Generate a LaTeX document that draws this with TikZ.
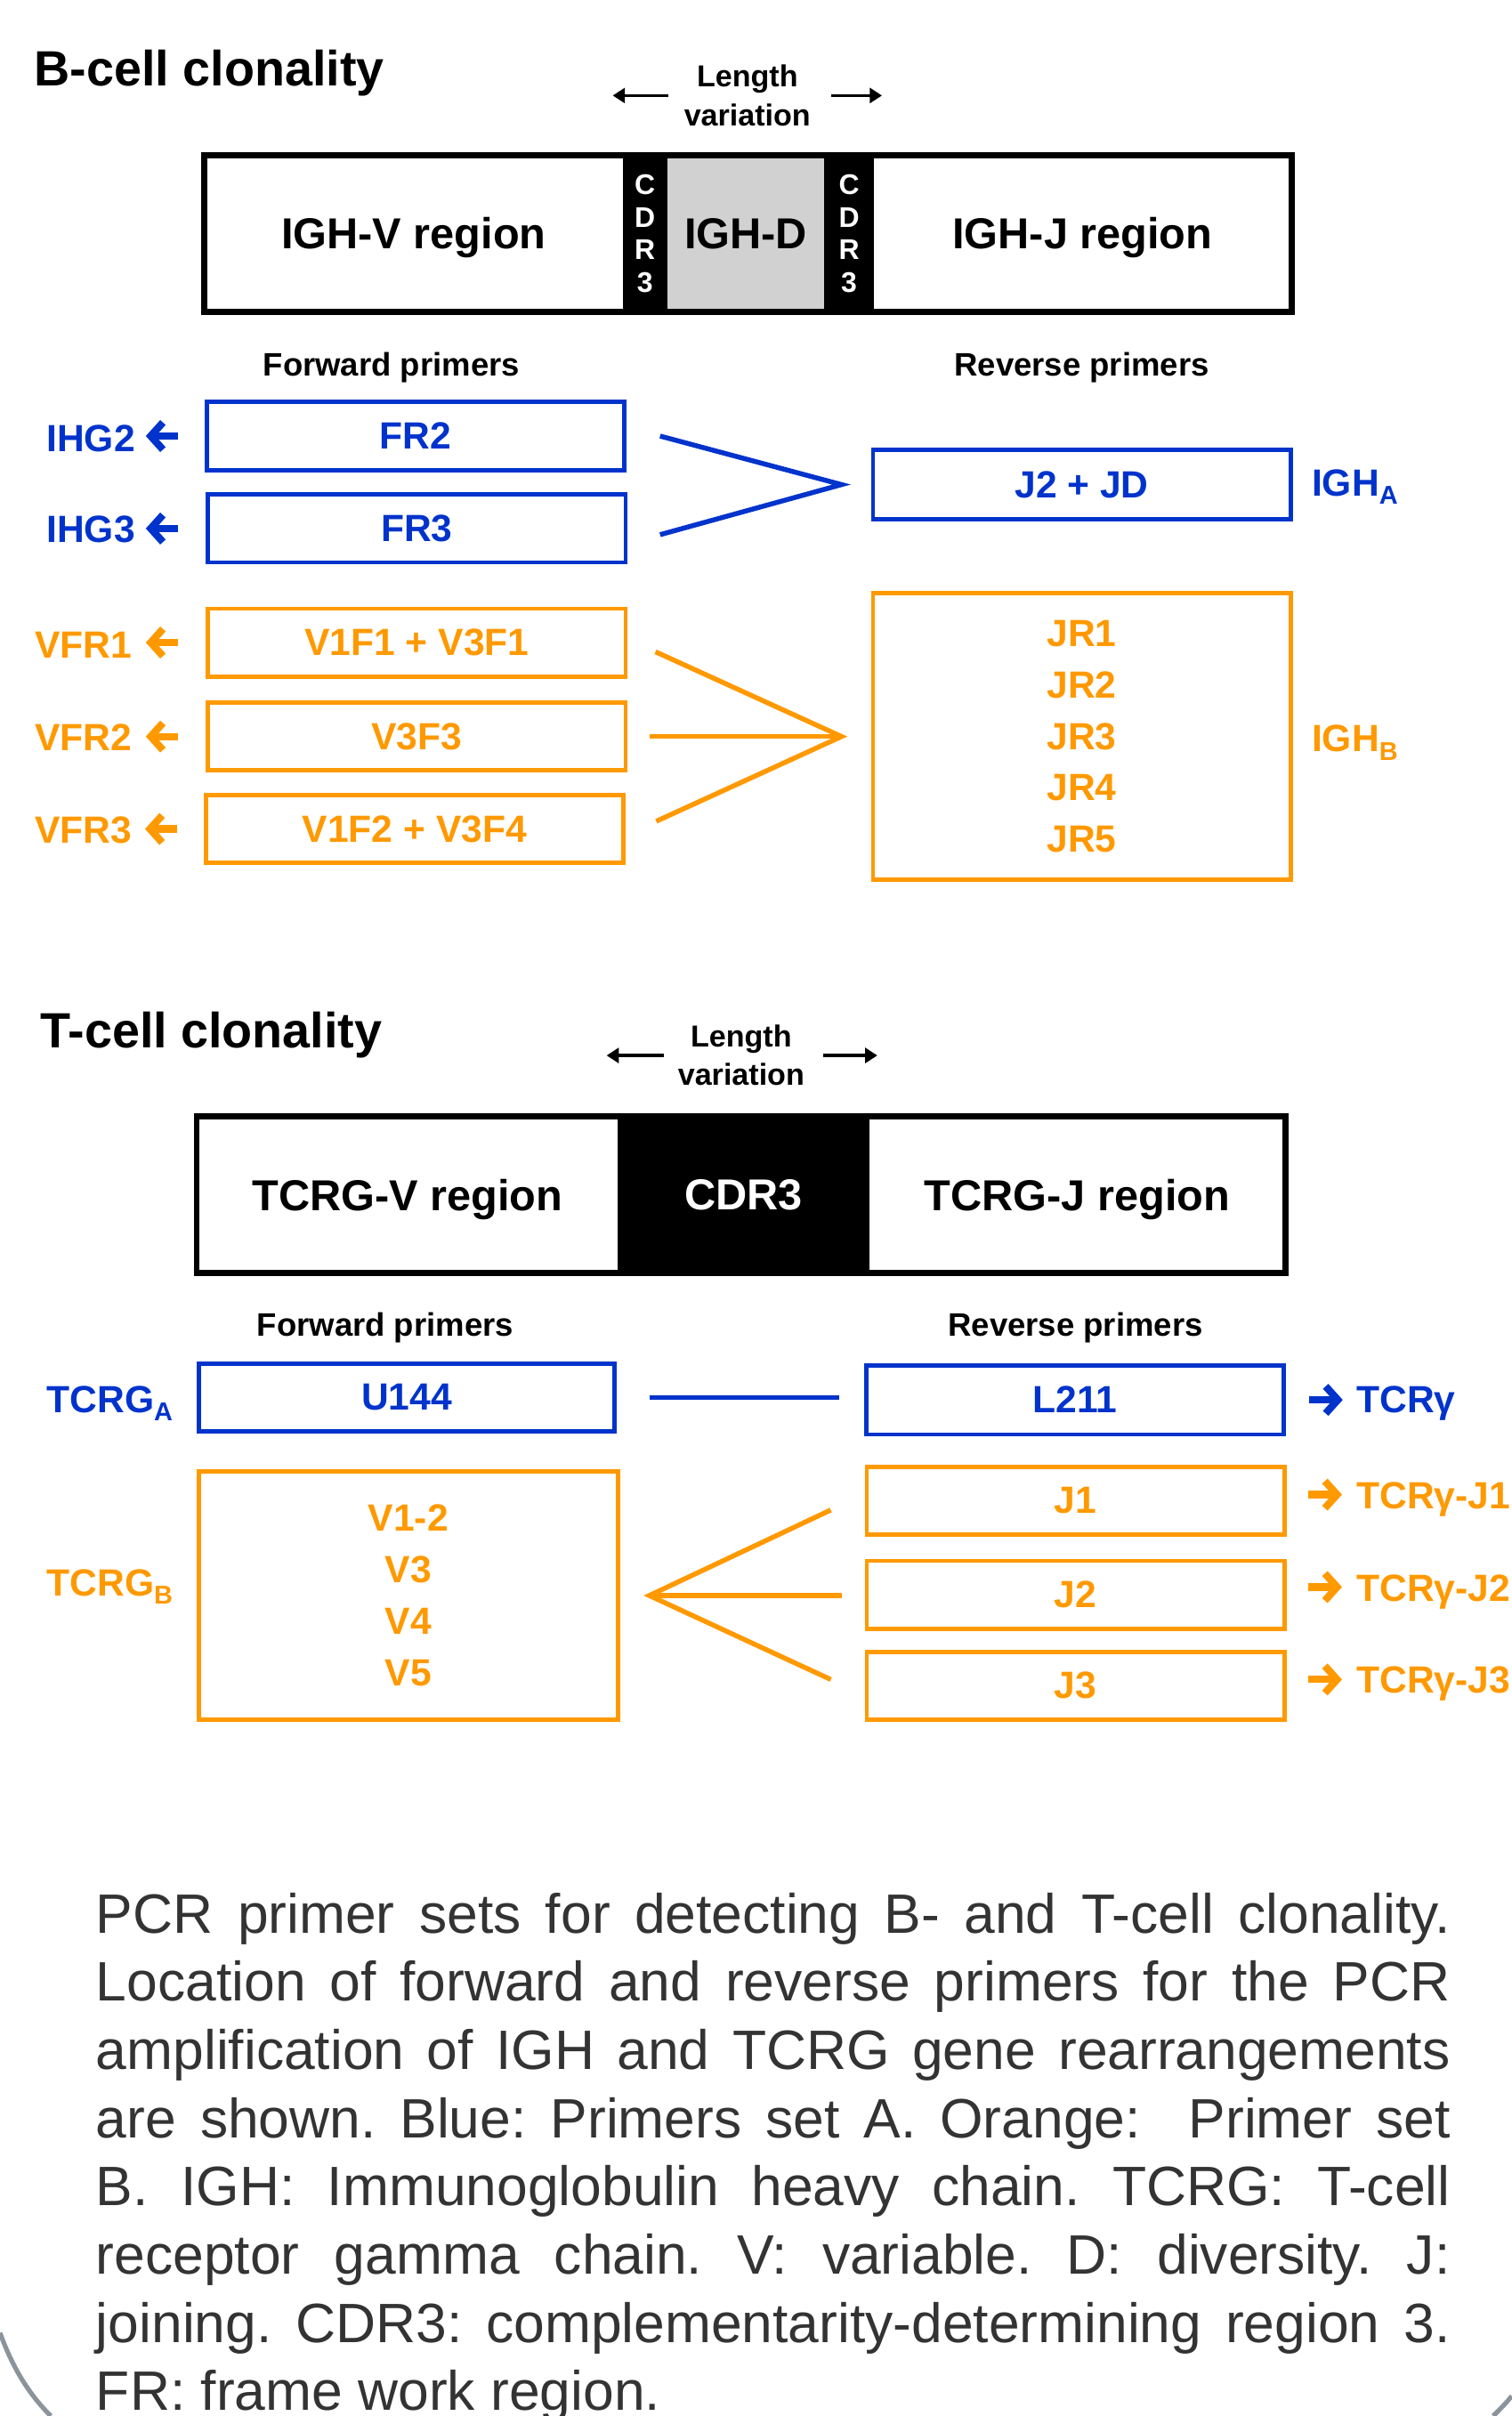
\documentclass[tikz,border=0pt]{standalone}
\usepackage{fontspec}
\setmainfont{Liberation Sans}
\usetikzlibrary{arrows.meta}
\definecolor{setA}{RGB}{0,51,204}
\definecolor{setB}{RGB}{255,153,0}
\definecolor{capgray}{RGB}{51,51,51}
\definecolor{framegray}{RGB}{140,148,155}
\newcommand{\setsub}[1]{\raisebox{-3pt}{\fontsize{9.5}{10}\selectfont #1}}

\begin{document}
\begin{tikzpicture}[x=0.02cm,y=-0.02cm]
  \tikzstyle{every node}=[inner sep=0pt, font=\bfseries];
  \tikzstyle{title}=[anchor=base west, font=\bfseries\fontsize{18.3}{20}\selectfont];
  \tikzstyle{lenv}=[align=center, font=\bfseries\fontsize{11.2}{14.2}\selectfont];
  \tikzstyle{varr}=[line width=1.1pt, -{Triangle[length=4.5pt,width=5.5pt]}];
  \tikzstyle{seg}=[minimum height=2.02cm, text depth=0pt, font=\bfseries\fontsize{16}{19}\selectfont];
  \tikzstyle{cdrtxt}=[text=white, align=center, font=\bfseries\fontsize{10.5}{12}\selectfont];
  \tikzstyle{genebox}=[line width=2.2pt];
  \tikzstyle{head}=[anchor=base, font=\bfseries\fontsize{12}{14}\selectfont];
  \tikzstyle{prim}=[draw, line width=1.6pt, minimum width=5.42cm, minimum height=0.88cm, align=center, font=\bfseries\fontsize{14}{19}\selectfont];
  \tikzstyle{side}=[font=\bfseries\fontsize{14}{17}\selectfont];
  \tikzstyle{larr}=[line width=2.7pt, -{Straight Barb[length=4.5pt,width=10pt]}];
  \tikzstyle{link}=[line width=1.8pt];
  \useasboundingbox (0,0) rectangle (981,1568);

  \node[title] (btitle) at (22,56) {B-cell clonality};
  \node[lenv] (blen) at (485,62) {Length\\variation};
  \draw[varr] ([xshift=-0.2cm]blen.west) -- ++(-0.72cm,0);
  \draw[varr] ([xshift=0.26cm]blen.east) -- ++(0.66cm,0);

  \node[seg, minimum width=5.42cm] (igv) at (268.5,151.5) {IGH-V region};
  \node[seg, cdrtxt, fill=black, minimum width=0.58cm] (cdra) at (418.5,151.5) {C\\D\\R\\3};
  \node[seg, fill=black!18, minimum width=2.04cm] (igd) at (484,151.5) {IGH-D};
  \node[seg, cdrtxt, fill=black, minimum width=0.64cm] (cdrb) at (551,151.5) {C\\D\\R\\3};
  \node[seg, minimum width=5.42cm] (igj) at (702.5,151.5) {IGH-J region};
  \draw[genebox] (igv.north west) rectangle (igj.south east);

  \node[head] (bfwd) at (254,244) {Forward primers};
  \node[head] (brev) at (702,244) {Reverse primers};

  \node[prim, setA] (fr2) at (269.5,283) {FR2};
  \node[prim, setA] (fr3) at (270.5,343) {FR3};
  \node[prim, setA, minimum height=0.9cm] (jd) at (702,314.5) {J2 + JD};
  \node[prim, setB] (v1) at (270.5,417) {V1F1 + V3F1};
  \node[prim, setB] (v3) at (270.5,478) {V3F3};
  \node[prim, setB] (v5) at (269,538) {V1F2 + V3F4};
  \node[prim, setB, minimum height=3.72cm] (jr) at (702,478) {JR1\\JR2\\JR3\\JR4\\JR5};

  \node[side, setA, anchor=base east] (ihg2) at (88,293) {IHG2};
  \node[side, setA, anchor=base east] (ihg3) at (88,352) {IHG3};
  \node[side, setB, anchor=base east] (vfr1) at (86,427) {VFR1};
  \node[side, setB, anchor=base east] (vfr2) at (86,487) {VFR2};
  \node[side, setB, anchor=base east] (vfr3) at (86,547) {VFR3};
  \node[side, setA, anchor=base west] (igha) at (851,322) {IGH\setsub{A}};
  \node[side, setB, anchor=base west] (ighb) at (851,488) {IGH\setsub{B}};

  \draw[larr, setA] ([xshift=-0.34cm]fr2.west) -- ++(-0.42cm,0);
  \draw[larr, setA] ([xshift=-0.36cm]fr3.west) -- ++(-0.42cm,0);
  \draw[larr, setB] ([xshift=-0.36cm]v1.west) -- ++(-0.42cm,0);
  \draw[larr, setB] ([xshift=-0.36cm]v3.west) -- ++(-0.42cm,0);
  \draw[larr, setB] ([xshift=-0.34cm]v5.west) -- ++(-0.42cm,0);

  \coordinate (ja) at ([xshift=-0.38cm]jd.west);
  \draw[link, setA] ([xshift=0.44cm]fr2.east) -- (ja) -- ([xshift=0.42cm, yshift=-0.08cm]fr3.east);
  \coordinate (jb) at ([xshift=-0.38cm]jr.west);
  \draw[link, setB] ([xshift=0.36cm, yshift=-0.12cm]v1.east) -- (jb) -- ([xshift=0.4cm, yshift=0.1cm]v5.east);
  \draw[link, setB] ([xshift=0.28cm]v3.east) -- (jb);

  \node[title] (ttitle) at (26,680) {T-cell clonality};
  \node[lenv] (tlen) at (481,685) {Length\\variation};
  \draw[varr] ([xshift=-0.18cm]tlen.west) -- ++(-0.74cm,0);
  \draw[varr] ([xshift=0.24cm]tlen.east) -- ++(0.7cm,0);

  \node[seg, minimum width=5.46cm] (tcv) at (264.5,775.5) {TCRG-V region};
  \node[seg, fill=black, text=white, minimum width=3.26cm] (tcdr) at (482.5,775.5) {CDR3};
  \node[seg, minimum width=5.4cm] (tcj) at (699,775.5) {TCRG-J region};
  \draw[genebox] (tcv.north west) rectangle (tcj.south east);

  \node[head] (tfwd) at (250,867) {Forward primers};
  \node[head] (trev) at (698,867) {Reverse primers};

  \node[prim, setA, minimum width=5.4cm] (u144) at (264,907) {U144};
  \node[prim, setA, minimum height=0.9cm] (l211) at (697.5,908.5) {L211};
  \node[prim, setB, minimum width=5.44cm, minimum height=3.22cm] (vset) at (265,1035.5) {V1-2\\V3\\V4\\V5};
  \node[prim, setB] (j1) at (698,974) {J1};
  \node[prim, setB] (j2) at (698,1035) {J2};
  \node[prim, setB] (j3) at (698,1094) {J3};

  \node[side, setA, anchor=base west] (tcrga) at (30,917) {TCRG\setsub{A}};
  \node[side, setB, anchor=base west] (tcrgb) at (30,1036) {TCRG\setsub{B}};
  \node[side, setA, anchor=base west] (tcry) at (880,917) {TCRγ};
  \node[side, setB, anchor=base west] (tcry1) at (880,979) {TCRγ-J1};
  \node[side, setB, anchor=base west] (tcry2) at (880,1039) {TCRγ-J2};
  \node[side, setB, anchor=base west] (tcry3) at (880,1099) {TCRγ-J3};

  \draw[larr, setA] ([xshift=0.3cm]l211.east) -- ++(0.44cm,0);
  \draw[larr, setB] ([xshift=0.28cm, yshift=0.08cm]j1.east) -- ++(0.44cm,0);
  \draw[larr, setB] ([xshift=0.28cm, yshift=0.1cm]j2.east) -- ++(0.44cm,0);
  \draw[larr, setB] ([xshift=0.28cm, yshift=0.08cm]j3.east) -- ++(0.44cm,0);

  \draw[link, setA] ([xshift=0.42cm]u144.east) -- ([xshift=-0.32cm]l211.west |- u144.east);
  \coordinate (vj) at ([xshift=0.38cm]vset.east);
  \draw[link, setB] ([xshift=-0.44cm, yshift=-0.12cm]j1.west) -- (vj) -- ([xshift=-0.44cm, yshift=0.08cm]j3.west);
  \draw[link, setB] (vj) -- ([xshift=-0.3cm]j2.west |- vj);

  \node[anchor=north west, text width=17.58cm, align=justify, text=capgray,
        font=\fontsize{20.5}{25.2}\selectfont] (caption) at (62,1228)
    {\frenchspacing\tolerance=9999 PCR primer sets for detecting B- and T-cell clonality.\linebreak
     Location of forward and reverse primers for the PCR\linebreak
     amplification of IGH and TCRG gene rearrangements\linebreak
     are shown. Blue: Primers set A. Orange:\ \ Primer set\linebreak
     B. IGH: Immunoglobulin heavy chain. TCRG: T-cell\linebreak
     receptor gamma chain. V: variable. D: diversity. J:\linebreak
     joining. CDR3: complementarity-determining region 3.\linebreak
     FR: frame work region.};

  \draw[framegray, line width=1.7pt] (0,1514) .. controls (8,1536) and (18,1553) .. (33,1568);
  \draw[framegray, line width=1.7pt] (969,1568) .. controls (974,1563) and (978,1559) .. (981,1555);
\end{tikzpicture}
\end{document}
